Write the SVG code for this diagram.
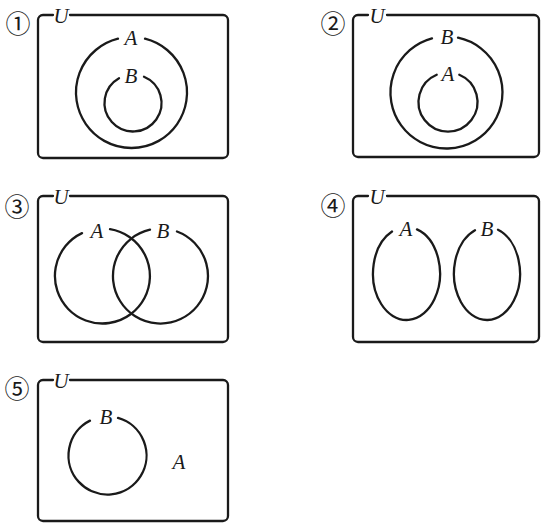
<svg xmlns="http://www.w3.org/2000/svg" width="541" height="524" viewBox="0 0 541 524">
<style>
.ln{fill:none;stroke:#1a1a1a;stroke-width:2.3;stroke-linecap:round;stroke-linejoin:round}
.lb{font-family:"Liberation Serif","Times New Roman",serif;font-style:italic;font-size:21px;fill:#1a1a1a;text-anchor:middle}
.num{font-family:"Noto Sans CJK JP","DejaVu Sans",sans-serif;font-size:25px;fill:#1a1a1a;text-anchor:middle}
</style>
<rect width="541" height="524" fill="#ffffff"/>
<g id="panel1">
<text class="num" x="18" y="33">①</text>
<path class="ln" d="M70,15 H223 A5,5 0 0 1 228,20 V153 A5,5 0 0 1 223,158 H43 A5,5 0 0 1 38,153 V20 A5,5 0 0 1 43,15 H53"/>
<text class="lb" x="61" y="23">U</text>
<path class="ln" d="M145,38.67 A55.5,55.5 0 1 1 118,38.67"/>
<text class="lb" x="131" y="45">A</text>
<path class="ln" d="M144,76.71 A28.5,28.5 0 1 1 119,78.18"/>
<text class="lb" x="131" y="83">B</text>
</g>
<g id="panel2">
<text class="num" x="333" y="33">②</text>
<path class="ln" d="M387,15 H534 A5,5 0 0 1 539,20 V152 A5,5 0 0 1 534,157 H358 A5,5 0 0 1 353,152 V20 A5,5 0 0 1 358,15 H368"/>
<text class="lb" x="377" y="23">U</text>
<path class="ln" d="M458,37.7 A56,56 0 1 1 432,38.4"/>
<text class="lb" x="447" y="44">B</text>
<path class="ln" d="M459.3,74.8 A29.5,29.5 0 1 1 436.7,74.8"/>
<text class="lb" x="448" y="81">A</text>
</g>
<g id="panel3">
<text class="num" x="17" y="216">③</text>
<path class="ln" d="M70,196 H223 A5,5 0 0 1 228,201 V337 A5,5 0 0 1 223,342 H43 A5,5 0 0 1 38,337 V201 A5,5 0 0 1 43,196 H53"/>
<text class="lb" x="61" y="204">U</text>
<path class="ln" d="M110,229.1 A47.5,47.5 0 1 1 82,233.1"/>
<text class="lb" x="97" y="238">A</text>
<path class="ln" d="M177,231.5 A47.5,47.5 0 1 1 150,229.7"/>
<text class="lb" x="163" y="238">B</text>
</g>
<g id="panel4">
<text class="num" x="333" y="215">④</text>
<path class="ln" d="M387,196 H534 A5,5 0 0 1 539,201 V337 A5,5 0 0 1 534,342 H358 A5,5 0 0 1 353,337 V201 A5,5 0 0 1 358,196 H368"/>
<text class="lb" x="377" y="204">U</text>
<path class="ln" d="M417,229.34 A33.5,46.5 0 1 1 392,231.58"/>
<text class="lb" x="406" y="236">A</text>
<path class="ln" d="M498,229.66 A33,46.5 0 1 1 475,230.18"/>
<text class="lb" x="487" y="236">B</text>
</g>
<g id="panel5">
<text class="num" x="17" y="398">⑤</text>
<path class="ln" d="M70,380 H223 A5,5 0 0 1 228,385 V516 A5,5 0 0 1 223,521 H43 A5,5 0 0 1 38,516 V385 A5,5 0 0 1 43,380 H53"/>
<text class="lb" x="61" y="388">U</text>
<path class="ln" d="M118,417.94 A39,39 0 1 1 90,420.65"/>
<text class="lb" x="106" y="424">B</text>
<text class="lb" x="179" y="469">A</text>
</g>
<g id="connectors"></g>
</svg>
